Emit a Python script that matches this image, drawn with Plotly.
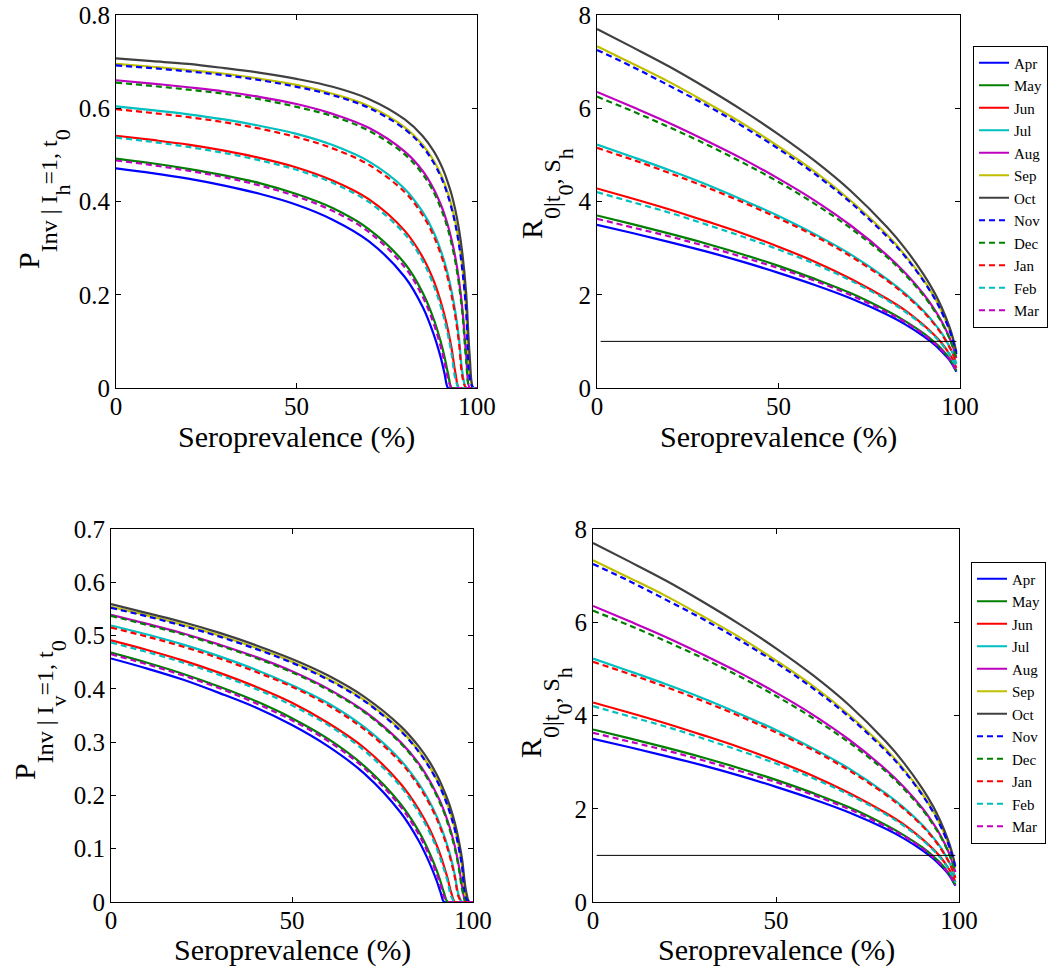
import plotly.graph_objects as go

# ---------------- data ----------------
months = ["Apr", "May", "Jun", "Jul", "Aug", "Sep", "Oct", "Nov", "Dec", "Jan", "Feb", "Mar"]
line_colors = ["#0000ff", "#008000", "#ff0000", "#00bfbf", "#bf00bf", "#bfbf00", "#404040",
               "#0000ff", "#008000", "#ff0000", "#00bfbf", "#bf00bf"]
line_dashes = ["solid"] * 7 + ["6px,4px"] * 5

# seroprevalence grid (%) for the invasion-probability panels
sero_p = [0, 10, 20, 30, 40, 50, 60, 70, 80, 85, 88, 90, 91, 92, 93, 94, 95, 96, 97, 98, 99, 100]

# P_Inv | I_h = 1 (top-left panel)
ph_apr = [.471, .461, .449, .434, .416, .393, .361, .315, .238, .173, .115, .064, .031, 0, 0, 0, 0, 0, 0, 0, 0, 0]
ph_may = [.492, .482, .470, .456, .439, .416, .386, .341, .267, .204, .148, .098, .067, .030, 0, 0, 0, 0, 0, 0, 0, 0]
ph_jun = [.541, .532, .522, .509, .493, .473, .445, .405, .337, .280, .230, .184, .156, .123, .083, .033, 0, 0, 0, 0, 0, 0]
ph_jul = [.604, .596, .587, .576, .562, .545, .521, .486, .427, .377, .334, .294, .270, .241, .206, .163, .107, .031, 0, 0, 0, 0]
ph_aug = [.660, .653, .645, .636, .624, .609, .588, .558, .507, .465, .427, .393, .372, .347, .317, .280, .232, .166, .071, 0, 0, 0]
ph_sep = [.695, .689, .682, .674, .663, .650, .631, .605, .559, .521, .488, .458, .439, .417, .390, .357, .314, .256, .171, .028, 0, 0]
ph_oct = [.707, .701, .695, .686, .676, .663, .646, .620, .576, .540, .508, .479, .461, .439, .414, .382, .341, .285, .203, .066, 0, 0]
ph_nov = [.692, .686, .679, .671, .660, .646, .628, .601, .555, .517, .483, .453, .434, .411, .384, .351, .308, .249, .164, .020, 0, 0]
ph_dec = [.655, .648, .640, .631, .619, .603, .583, .552, .501, .458, .420, .385, .364, .339, .308, .271, .222, .156, .059, 0, 0, 0]
ph_jan = [.598, .590, .581, .570, .556, .538, .514, .479, .420, .370, .326, .286, .262, .233, .197, .154, .098, .022, 0, 0, 0, 0]
ph_feb = [.537, .528, .517, .504, .488, .468, .440, .399, .330, .272, .220, .174, .145, .112, .071, .020, 0, 0, 0, 0, 0, 0]
ph_mar = [.488, .478, .466, .452, .434, .411, .380, .335, .259, .195, .138, .087, .055, .018, 0, 0, 0, 0, 0, 0, 0, 0]

# P_Inv | I_v = 1 (bottom-left panel)
pv_apr = [.457, .438, .417, .392, .365, .332, .292, .241, .168, .115, .073, .039, .019, 0, 0, 0, 0, 0, 0, 0, 0, 0]
pv_may = [.468, .449, .428, .404, .377, .345, .306, .255, .184, .133, .092, .059, .039, .017, 0, 0, 0, 0, 0, 0, 0, 0]
pv_jun = [.491, .473, .453, .430, .404, .374, .336, .289, .222, .174, .137, .106, .088, .067, .044, .017, 0, 0, 0, 0, 0, 0]
pv_jul = [.519, .502, .483, .461, .436, .407, .373, .328, .266, .222, .188, .160, .143, .125, .104, .080, .050, .014, 0, 0, 0, 0]
pv_aug = [.539, .522, .504, .483, .460, .433, .400, .358, .300, .260, .228, .202, .188, .171, .152, .130, .104, .071, .029, 0, 0, 0]
pv_sep = [.554, .538, .520, .500, .477, .451, .419, .379, .323, .284, .254, .230, .216, .200, .183, .162, .137, .107, .068, .010, 0, 0]
pv_oct = [.559, .542, .525, .505, .482, .456, .425, .385, .330, .292, .263, .239, .225, .209, .192, .172, .148, .118, .080, .024, 0, 0]
pv_nov = [.552, .536, .518, .498, .475, .449, .417, .377, .321, .282, .252, .228, .214, .198, .180, .159, .135, .104, .065, .007, 0, 0]
pv_dec = [.537, .520, .502, .481, .458, .431, .398, .356, .298, .257, .225, .199, .184, .168, .148, .126, .100, .067, .024, 0, 0, 0]
pv_jan = [.515, .498, .479, .457, .432, .404, .369, .324, .262, .218, .184, .156, .139, .121, .100, .075, .046, .010, 0, 0, 0, 0]
pv_feb = [.487, .469, .449, .426, .400, .369, .332, .284, .217, .168, .131, .100, .081, .061, .038, .010, 0, 0, 0, 0, 0, 0]
pv_mar = [.465, .446, .425, .401, .373, .341, .302, .251, .179, .127, .086, .052, .032, .010, 0, 0, 0, 0, 0, 0, 0, 0]

# seroprevalence grid (%) for the R0 panels
sero_r = [0, 10, 20, 30, 40, 50, 60, 70, 80, 85, 90, 93, 95, 97, 98, 99]

# R_0|t0,Sh (right panels, same curves top and bottom)
r0_apr = [3.50, 3.32, 3.13, 2.93, 2.71, 2.47, 2.21, 1.92, 1.57, 1.36, 1.11, 0.93, 0.78, 0.61, 0.49, 0.35]
r0_may = [3.70, 3.51, 3.31, 3.10, 2.87, 2.62, 2.34, 2.03, 1.65, 1.43, 1.17, 0.98, 0.83, 0.64, 0.52, 0.37]
r0_jun = [4.28, 4.06, 3.83, 3.58, 3.32, 3.03, 2.71, 2.34, 1.91, 1.66, 1.35, 1.13, 0.96, 0.74, 0.61, 0.43]
r0_jul = [5.22, 4.95, 4.67, 4.37, 4.04, 3.69, 3.30, 2.86, 2.33, 2.02, 1.65, 1.38, 1.17, 0.90, 0.74, 0.52]
r0_aug = [6.35, 6.02, 5.68, 5.31, 4.92, 4.49, 4.02, 3.48, 2.84, 2.46, 2.01, 1.68, 1.42, 1.10, 0.90, 0.64]
r0_sep = [7.33, 6.95, 6.56, 6.13, 5.68, 5.18, 4.64, 4.01, 3.28, 2.84, 2.32, 1.94, 1.64, 1.27, 1.04, 0.73]
r0_oct = [7.70, 7.30, 6.89, 6.44, 5.96, 5.44, 4.87, 4.22, 3.44, 2.98, 2.43, 2.04, 1.72, 1.33, 1.09, 0.77]
r0_nov = [7.25, 6.88, 6.48, 6.07, 5.62, 5.13, 4.59, 3.97, 3.24, 2.81, 2.29, 1.92, 1.62, 1.26, 1.03, 0.73]
r0_dec = [6.25, 5.93, 5.59, 5.23, 4.84, 4.42, 3.95, 3.42, 2.80, 2.42, 1.98, 1.65, 1.40, 1.08, 0.88, 0.63]
r0_jan = [5.15, 4.89, 4.61, 4.31, 3.99, 3.64, 3.26, 2.82, 2.30, 1.99, 1.63, 1.36, 1.15, 0.89, 0.73, 0.52]
r0_feb = [4.20, 3.98, 3.76, 3.51, 3.25, 2.97, 2.66, 2.30, 1.88, 1.63, 1.33, 1.11, 0.94, 0.73, 0.59, 0.42]
r0_mar = [3.63, 3.44, 3.25, 3.04, 2.81, 2.57, 2.30, 1.99, 1.62, 1.41, 1.15, 0.96, 0.81, 0.63, 0.51, 0.36]

# threshold line R0 = 1
threshold_x = [1, 99]
threshold_y = [1, 1]

# axis ticks
x_ticks = [0, 50, 100]
ph_ticks = [0, 0.2, 0.4, 0.6, 0.8]
pv_ticks = [0, 0.1, 0.2, 0.3, 0.4, 0.5, 0.6, 0.7]
r0_ticks = [0, 2, 4, 6, 8]

ph_series = [ph_apr, ph_may, ph_jun, ph_jul, ph_aug, ph_sep, ph_oct, ph_nov, ph_dec, ph_jan, ph_feb, ph_mar]
pv_series = [pv_apr, pv_may, pv_jun, pv_jul, pv_aug, pv_sep, pv_oct, pv_nov, pv_dec, pv_jan, pv_feb, pv_mar]
r0_series = [r0_apr, r0_may, r0_jun, r0_jul, r0_aug, r0_sep, r0_oct, r0_nov, r0_dec, r0_jan, r0_feb, r0_mar]

# ---------------- figure ----------------
W, H = 1064, 969
FONT = "Liberation Serif"
LW = 2.2

fig = go.Figure()


def add_curves(xs, series, xa, ya, legend_name=None):
    for name, ys, col, dash in zip(months, series, line_colors, line_dashes):
        fig.add_trace(go.Scatter(
            x=xs, y=ys, mode="lines", name=name,
            line=dict(color=col, width=LW, dash=dash, shape="spline", smoothing=1.0),
            xaxis=xa, yaxis=ya,
            showlegend=legend_name is not None,
            legend=legend_name if legend_name else "legend",
            hoverinfo="skip",
        ))


add_curves(sero_p, ph_series, "x", "y")
add_curves(sero_r, r0_series, "x2", "y2", "legend")
add_curves(sero_p, pv_series, "x3", "y3")
add_curves(sero_r, r0_series, "x4", "y4", "legend2")

for xa, ya in (("x2", "y2"), ("x4", "y4")):
    fig.add_trace(go.Scatter(x=threshold_x, y=threshold_y, mode="lines",
                             line=dict(color="black", width=1), xaxis=xa, yaxis=ya,
                             showlegend=False, hoverinfo="skip"))


def dom_x(a, b):
    return [a / W, b / W]


def dom_y(top, bottom):
    return [1 - bottom / H, 1 - top / H]


axis_common = dict(
    showline=True, linecolor="black", linewidth=1.2, mirror="allticks",
    ticks="inside", ticklen=5, tickwidth=1, tickcolor="black",
    showgrid=False, zeroline=False, fixedrange=True, automargin=False,
    tickfont=dict(family=FONT, size=25, color="black"),
)
x_common = dict(axis_common, range=[0, 100], tickvals=x_ticks, ticklabelstandoff=-4)

legend_common = dict(
    xanchor="left", yanchor="middle",
    bordercolor="black", borderwidth=1, bgcolor="white",
    font=dict(family=FONT, size=15, color="black"), itemwidth=30,
    tracegroupgap=0,
)

fig.update_layout(
    template="none",
    width=W, height=H,
    margin=dict(l=0, r=0, t=0, b=0, pad=0, autoexpand=False),
    paper_bgcolor="white", plot_bgcolor="white",
    showlegend=True,
    xaxis=dict(x_common, domain=dom_x(116, 477), anchor="y"),
    yaxis=dict(axis_common, domain=dom_y(15, 388), range=[0, 0.8], tickvals=ph_ticks, anchor="x"),
    xaxis2=dict(x_common, domain=dom_x(597, 960), anchor="y2"),
    yaxis2=dict(axis_common, domain=dom_y(15, 388), range=[0, 8], tickvals=r0_ticks, anchor="x2"),
    xaxis3=dict(x_common, domain=dom_x(111, 473), anchor="y3"),
    yaxis3=dict(axis_common, domain=dom_y(529, 902), range=[0, 0.7], tickvals=pv_ticks, anchor="x3"),
    xaxis4=dict(x_common, domain=dom_x(593, 959), anchor="y4"),
    yaxis4=dict(axis_common, domain=dom_y(529, 902), range=[0, 8], tickvals=r0_ticks, anchor="x4"),
    legend=dict(legend_common, x=973 / W, y=1 - 186.5 / H),
    legend2=dict(legend_common, x=971 / W, y=1 - 702.5 / H),
)

title_font = dict(family=FONT, size=30, color="black")
x_title = "Seroprevalence (%)"

SUB1 = "<span style='font-size:24px;baseline-shift:-18px'>"
SUB2 = "<span style='font-size:22px;baseline-shift:-13px'>"
END = "</span>"

ylab_h = "P" + SUB1 + "Inv | I" + SUB2 + "h" + END + "=1, t" + SUB2 + "0" + END + END
ylab_v = "P" + SUB1 + "Inv | I" + SUB2 + "v" + END + "=1, t" + SUB2 + "0" + END + END
ylab_r = "R" + SUB1 + "0|t" + SUB2 + "0" + END + ", S" + SUB2 + "h" + END + END

annots = [
    (x_title, (116 + 477) / 2, 437, 0),
    (x_title, (597 + 960) / 2, 437, 0),
    (x_title, (111 + 473) / 2, 950, 0),
    (x_title, (593 + 959) / 2, 950, 0),
    (ylab_h, 44, 199, -90),
    (ylab_r, 547, 194, -90),
    (ylab_v, 39, 710, -90),
    (ylab_r, 545, 713, -90),
]
for text, px, py, ang in annots:
    fig.add_annotation(text=text, x=px / W, y=1 - py / H, xref="paper", yref="paper",
                       xanchor="center", yanchor="middle", showarrow=False,
                       textangle=ang, font=title_font if ang else dict(title_font, size=30))

fig.write_html("out.html")
